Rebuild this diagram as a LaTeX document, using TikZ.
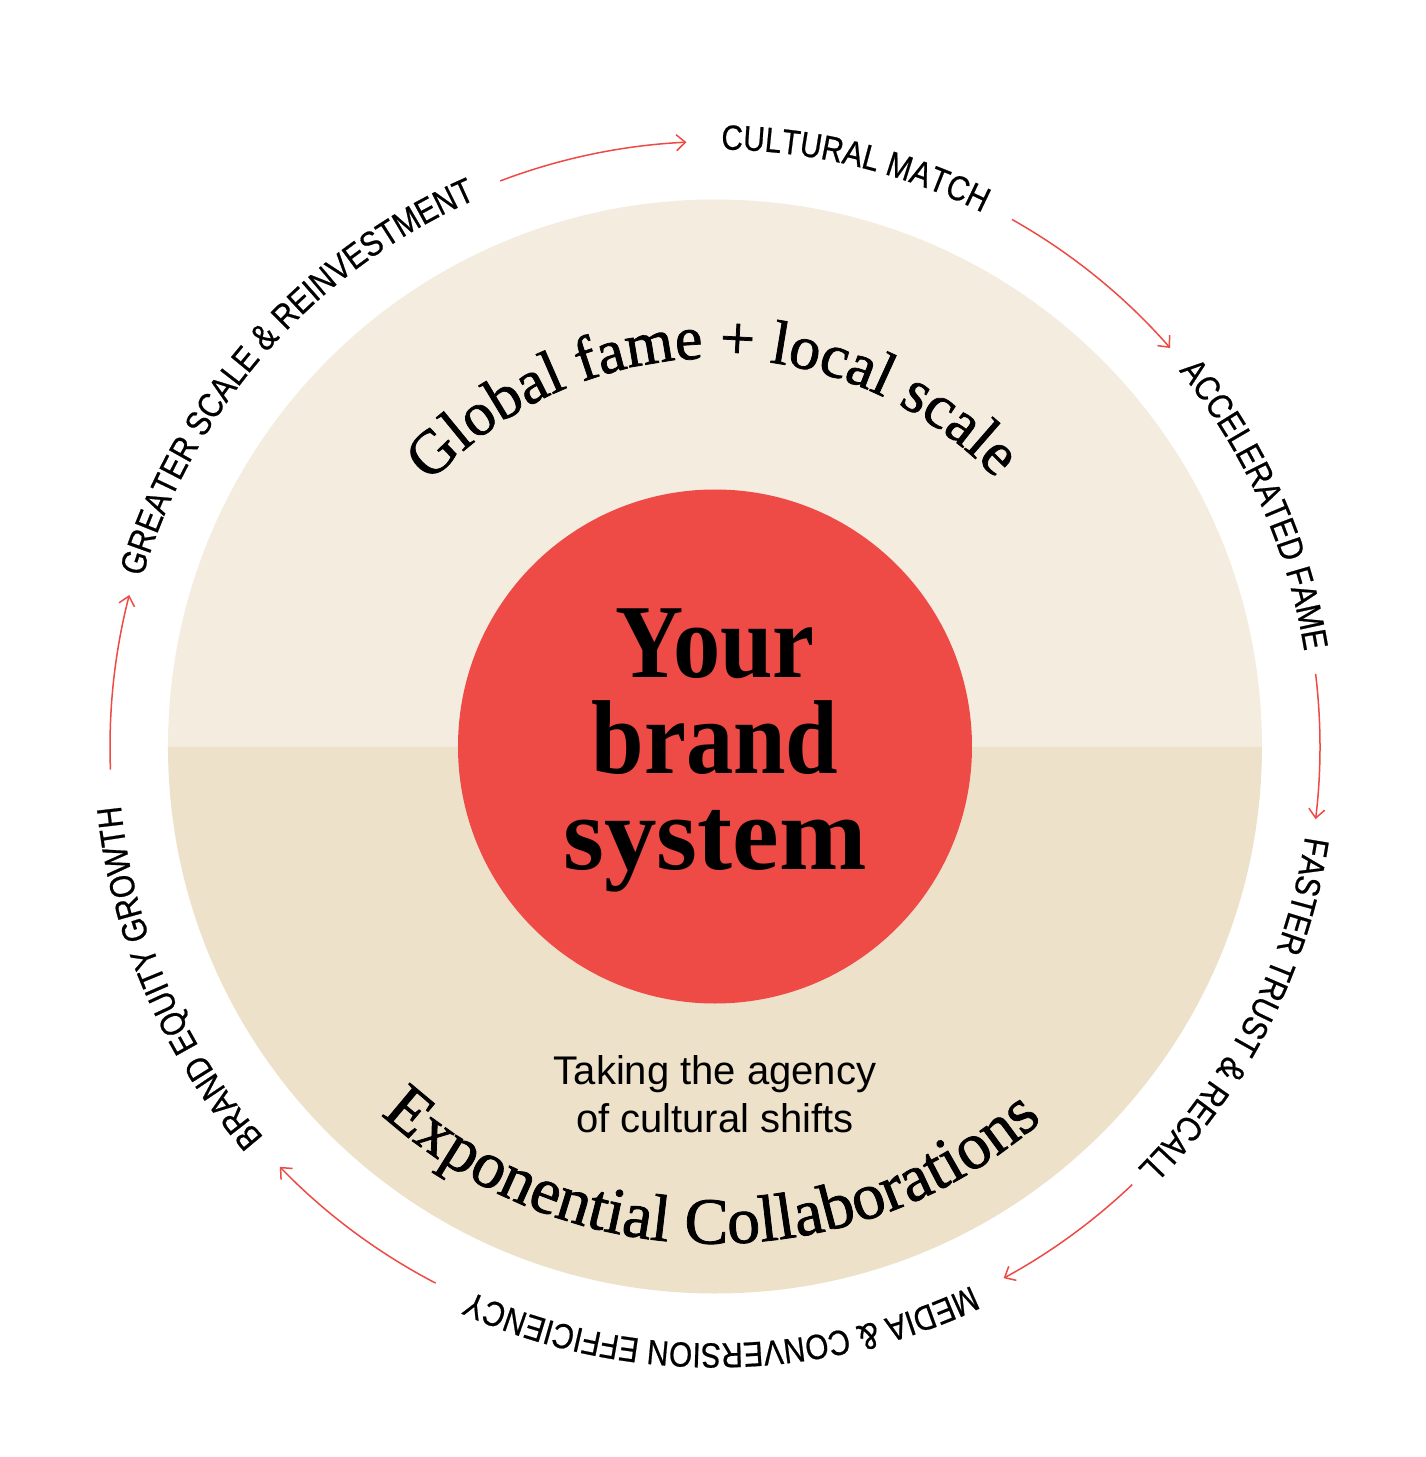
\documentclass[tikz,border=0pt]{standalone}
\usepackage{fontspec}
\setmainfont{Liberation Serif}
\newfontfamily\labelfont[FakeStretch=0.85,FakeBold=0.6]{Liberation Sans}
\newfontfamily\tagfont{Liberation Sans}
\newfontfamily\titlefont[FakeStretch=0.9]{Liberation Serif}
\newfontfamily\titlewide{Liberation Serif}
\newfontfamily\arcfont[FakeBold=1.2]{Liberation Serif}
\usetikzlibrary{decorations.text,arrows.meta}
\definecolor{topfill}{HTML}{F4ECDF}
\definecolor{botfill}{HTML}{EEE1CA}
\definecolor{brandred}{HTML}{EE4A46}
\newcommand\lbl{\labelfont\fontsize{35}{40}\selectfont}
\newcommand\amp{{\labelfont\fontsize{37}{40}\selectfont\&}}
\newcommand\arcserif{\arcfont\fontsize{62}{62}\selectfont}
\newcommand\arcserifb{\arcfont\fontsize{66}{66}\selectfont}
\newcommand\arclabel[3]{%
  \path[decorate, decoration={text along path, text align=center, text={|\lbl|#3}}]
    ({#2+40}:#1) arc[start angle={#2+40}, end angle={#2-40}, radius=#1];}
\begin{document}
\begin{tikzpicture}[x=1pt,y=1pt,
  arrowline/.style={draw=brandred, line width=1.5pt, -{Straight Barb[length=9pt,width=16pt]}}]
\useasboundingbox (-715,-710.5) rectangle (711,746.5);
\fill[white] (-715,-710.5) rectangle (711,746.5);
% halves of the big disc
\fill[topfill] (-547,0) arc[start angle=180,end angle=0,radius=547] -- cycle;
\fill[botfill] (547,0) arc[start angle=0,end angle=-180,radius=547] -- cycle;
% core
\node[circle, fill=brandred, minimum size=514pt, inner sep=0pt] (core) at (0,0) {};
\node[font=\titlefont\bfseries\fontsize{105}{96}\selectfont, align=center, inner sep=0pt] (title) at (0,-4) {Your\\brand\\{\titlewide\bfseries system}};
\node[font=\tagfont\fontsize{40}{48}\selectfont, align=center, inner sep=0pt] (tagline) at (0,-348) {Taking the agency\\of cultural shifts};
% inner arc texts
\path[decorate, decoration={text along path, text align=center, text={|\arcserif|Global fame + local scale}}]
  (160.4:388) arc[start angle=160.4, end angle=20.4, radius=388];
\path[decorate, decoration={text along path, text align=center, text={|\arcserifb|Exponential Collaborations}}]
  (-160.5:497) arc[start angle=-160.5, end angle=-20.5, radius=497];
% outer labels
\arclabel{597}{76.4}{CULTURAL MATCH}
\arclabel{597}{24.1}{ACCELERATED FAME}
\arclabel{597}{-26.8}{FASTER TRUST \amp{} RECALL}
\arclabel{597}{-89.35}{MEDIA \amp{} CONVERSION EFFICIENCY}
\arclabel{597}{-156.7}{BRAND EQUITY GROWTH}
\arclabel{597}{138.55}{GREATER SCALE \amp{} REINVESTMENT}
% arrows
\foreach \s/\e [count=\i] in {110.8/92.7, 60.6/41.2, 6.9/-6.9, -46.4/-61.5, -117.5/-136, 182.2/165.5}{
  \coordinate (arr\i) at (\s:605);
  \draw[arrowline] (arr\i) arc[start angle=\s, end angle=\e, radius=605];
}
\end{tikzpicture}
\end{document}
